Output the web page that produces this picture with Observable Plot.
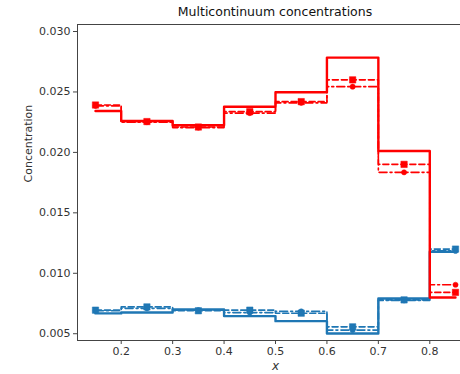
<!DOCTYPE html>
<html>
<head>
<meta charset="utf-8">
<script src="https://cdn.jsdelivr.net/npm/d3@7"></script>
<script src="https://cdn.jsdelivr.net/npm/@observablehq/plot@0.6"></script>
<style>
  html, body { margin: 0; padding: 0; background: #fff; overflow: hidden; width: 460px; height: 374px; }
  #wrap { position: relative; width: 460px; height: 374px; overflow: hidden; }
  #title { position: absolute; left: 0; width: 550px; top: 4px; text-align: center; font: 12.5px "DejaVu Sans", sans-serif; color: #111; z-index: 2; }
  svg { font-family: "DejaVu Sans", sans-serif; max-width: none !important; }
</style>
</head>
<body>
<div id="wrap"><div id="title">Multicontinuum concentrations</div></div>
<script>
const xs = [0.15, 0.25, 0.35, 0.45, 0.55, 0.65, 0.75, 0.85];
const redSolid   = [0.02343, 0.02260, 0.02224, 0.02378, 0.02497, 0.02784, 0.02012, 0.00800];
const redDashed  = [0.02392, 0.02255, 0.02210, 0.02337, 0.02420, 0.02600, 0.01901, 0.00842];
const redDashDot = [0.02385, 0.02250, 0.02205, 0.02325, 0.02410, 0.02544, 0.01835, 0.00905];
const blueSolid   = [0.00668, 0.00676, 0.00701, 0.00646, 0.00604, 0.00502, 0.00792, 0.01178];
const blueDashed  = [0.00695, 0.00722, 0.00690, 0.00695, 0.00670, 0.00557, 0.00780, 0.01200];
const blueDashDot = [0.00690, 0.00710, 0.00695, 0.00675, 0.00685, 0.00530, 0.00775, 0.01185];
const xTicks = [0.2, 0.3, 0.4, 0.5, 0.6, 0.7, 0.8];
const yTicks = [0.005, 0.010, 0.015, 0.020, 0.025, 0.030];

const RED = "#ff0000", BLUE = "#1f77b4";
const toRows = (vals) => xs.map((x, i) => ({x, y: vals[i]}));

function series(vals, color, kind) {
  const data = toRows(vals);
  const marks = [];
  const opts = {x: "x", y: "y", curve: "step", stroke: color, clip: true};
  if (kind === "solid") marks.push(Plot.line(data, {...opts, strokeWidth: 2.4}));
  if (kind === "dashed") {
    marks.push(Plot.line(data, {...opts, strokeWidth: 1.6, strokeDasharray: "6,3"}));
    marks.push(Plot.dot(data, {x: "x", y: "y", symbol: "square", r: 3.6, fill: color, stroke: color, strokeWidth: 0.5}));
  }
  if (kind === "dashdot") {
    marks.push(Plot.line(data, {...opts, strokeWidth: 1.6, strokeDasharray: "8,3,2,3"}));
    marks.push(Plot.dot(data, {x: "x", y: "y", r: 2.6, fill: color, stroke: color, strokeWidth: 0.5}));
  }
  return marks;
}

const chart = Plot.plot({
  width: 500,
  height: 374,
  marginLeft: 77,
  marginRight: 27,
  marginTop: 24,
  marginBottom: 34,
  style: {fontFamily: "DejaVu Sans, sans-serif", fontSize: "11px", color: "#333", background: "#fff", maxWidth: "none"},
  x: {domain: [0.115, 0.885], ticks: xTicks, tickFormat: d3.format(".1f")},
  y: {domain: [0.00444, 0.03058], ticks: yTicks, tickFormat: d3.format(".3f")},
  marks: [
    ...series(blueDashDot, BLUE, "dashdot"),
    ...series(blueDashed, BLUE, "dashed"),
    ...series(blueSolid, BLUE, "solid"),
    ...series(redDashDot, RED, "dashdot"),
    ...series(redDashed, RED, "dashed"),
    ...series(redSolid, RED, "solid"),
    Plot.frame({stroke: "#444", strokeWidth: 1}),
    Plot.axisX({ticks: xTicks, tickFormat: d3.format(".1f"), tickSize: 4, tickPadding: 3, label: null, stroke: "#444"}),
    Plot.axisY({ticks: yTicks, tickFormat: d3.format(".3f"), tickSize: 4, tickPadding: 3, label: null, stroke: "#444"}),
    Plot.text(["x"], {frameAnchor: "bottom", dy: 29, fontStyle: "italic", fontSize: 12, fill: "#333"}),
    Plot.text(["Concentration"], {frameAnchor: "left", dx: -49, rotate: -90, fontSize: 11, fill: "#333"})
  ]
});
document.getElementById("wrap").appendChild(chart);
chart.style.position = "absolute";
chart.style.left = "0";
chart.style.top = "0";
chart.style.maxWidth = "none";
</script>
</body>
</html>
